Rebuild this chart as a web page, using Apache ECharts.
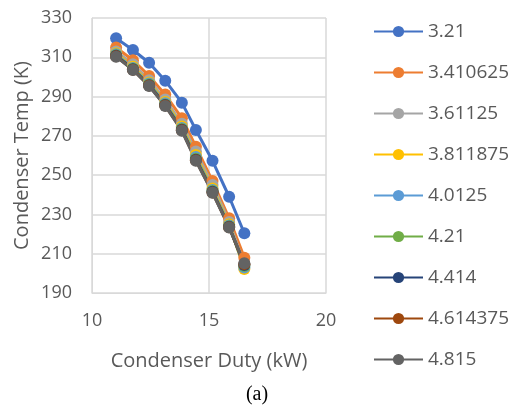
<!DOCTYPE html>
<html>
<head>
<meta charset="utf-8">
<script src="https://cdn.jsdelivr.net/npm/echarts@6/dist/echarts.min.js"></script>
<style>
html, body { margin: 0; padding: 0; background: #fff; }
#main { width: 511px; height: 413px; }
</style>
</head>
<body>
<div id="main"></div>
<script>
// condenser duty (kW), shared by all series
var duty = [11.03, 11.75, 12.44, 13.13, 13.84, 14.44, 15.15, 15.86, 16.51];

// condenser temperature (K) for each series
var names = ['3.21', '3.410625', '3.61125', '3.811875', '4.0125', '4.21', '4.414', '4.614375', '4.815'];
var t321 = [319.7, 313.7, 307.2, 298.1, 286.9, 273.0, 257.3, 239.0, 220.4];
var t3410625 = [315.0, 308.5, 300.5, 291.0, 279.0, 264.5, 247.0, 228.0, 208.0];
var t361125 = [313.0, 306.5, 298.3, 288.5, 276.2, 262.0, 245.0, 226.2, 204.5];
var t3811875 = [312.0, 305.2, 297.2, 287.2, 274.8, 260.2, 243.2, 225.0, 202.2];
var t40125 = [311.5, 304.6, 296.6, 286.6, 274.0, 259.2, 242.5, 224.4, 203.0];
var t421 = [311.0, 304.2, 296.1, 286.0, 273.5, 258.4, 241.9, 224.0, 203.8];
var t4414 = [310.8, 303.9, 295.8, 285.7, 273.1, 257.9, 241.5, 223.7, 204.3];
var t4614375 = [310.5, 303.7, 295.6, 285.4, 272.8, 257.6, 241.2, 223.5, 204.7];
var t4815 = [310.3, 303.5, 295.4, 285.2, 272.6, 257.3, 241.0, 223.4, 205.1];
var temps = [t321, t3410625, t361125, t3811875, t40125, t421, t4414, t4614375, t4815];

var colors = ['#4472C4', '#ED7D31', '#A5A5A5', '#FFC000', '#5B9BD5', '#70AD47', '#264478', '#9E480E', '#636363'];

var chart = echarts.init(document.getElementById('main'));

var series = [];
for (var i = 0; i < names.length; i++) {
    var pts = [];
    for (var j = 0; j < duty.length; j++) {
        pts.push([duty[j], temps[i][j]]);
    }
    series.push({
        name: names[i],
        type: 'line',
        data: pts,
        symbol: 'circle',
        symbolSize: 12,
        lineStyle: { width: 3 },
        itemStyle: { color: colors[i] },
        emphasis: { disabled: true }
    });
}

var font = 'Open Sans';
var option = {
    animation: false,
    color: colors,
    title: {
        text: '(a)',
        left: 252,
        top: 380,
        textAlign: 'center',
        textStyle: { fontFamily: 'Liberation Serif', fontSize: 20, fontWeight: 'normal', color: '#000' }
    },
    grid: { left: 92, top: 18, width: 234, height: 275 },
    legend: {
        orient: 'vertical',
        left: 368,
        top: 17,
        itemWidth: 49,
        itemHeight: 14,
        itemGap: 22,
        textStyle: { fontFamily: font, fontSize: 19, color: '#595959' },
        data: names
    },
    xAxis: {
        type: 'value',
        min: 10, max: 20, interval: 5,
        name: 'Condenser Duty (kW)',
        nameLocation: 'middle',
        nameGap: 58,
        nameTextStyle: { fontFamily: font, fontSize: 20, color: '#595959' },
        axisLine: { show: true, lineStyle: { color: '#d9d9d9' } },
        axisTick: { show: false },
        axisLabel: { fontFamily: font, fontSize: 18, color: '#595959', margin: 19 },
        splitLine: { lineStyle: { color: '#d9d9d9', width: 1.5 } }
    },
    yAxis: {
        type: 'value',
        min: 190, max: 330, interval: 20,
        name: 'Condenser Temp (K)',
        nameLocation: 'middle',
        nameGap: 60,
        nameTextStyle: { fontFamily: font, fontSize: 20, color: '#595959' },
        axisLine: { show: true, lineStyle: { color: '#d9d9d9' } },
        axisTick: { show: false },
        axisLabel: { fontFamily: font, fontSize: 18, color: '#595959', margin: 20 },
        splitLine: { lineStyle: { color: '#d9d9d9', width: 1.5 } }
    },
    series: series
};

chart.setOption(option);
</script>
</body>
</html>
